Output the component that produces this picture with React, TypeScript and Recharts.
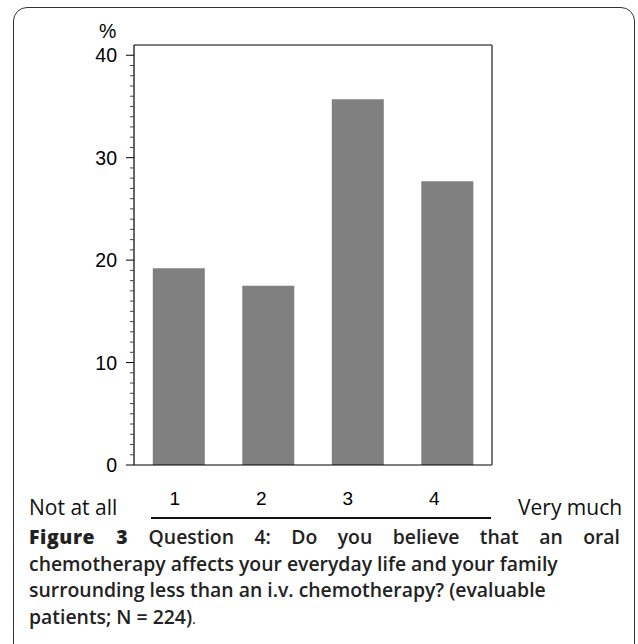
import { BarChart, Bar, XAxis, YAxis } from 'recharts'

const categories = ['1', '2', '3', '4']
const percentages = [19.2, 17.5, 35.7, 27.7]
const majorTicks = [0, 10, 20, 30, 40]
const yTicks = Array.from({ length: 41 }, (_, i) => i)

const data = categories.map((name, i) => ({ name, value: percentages[i] }))

const numFont = '"Liberation Sans", Arial, sans-serif'
const textFont = '"Open Sans", "Noto Sans", sans-serif'

function YTick({ x, y, payload }: any) {
    const major = majorTicks.includes(payload.value)
    return (
        <g>
            <line
                x1={x - (major ? 8 : 4)}
                x2={x}
                y1={y}
                y2={y}
                stroke={major ? '#000' : '#444'}
                strokeWidth={1}
            />
            {major && (
                <text
                    x={x - 17}
                    y={y}
                    dy="0.36em"
                    textAnchor="end"
                    fontSize={19.5}
                    fontFamily={numFont}
                    fill="#000"
                >
                    {payload.value}
                </text>
            )}
        </g>
    )
}

function XTick({ x, y, payload, index }: any) {
    return (
        <text
            x={x - 4 - index * 3}
            y={y}
            dy="0.71em"
            textAnchor="middle"
            fontSize={19}
            fontFamily={numFont}
            fill="#000"
        >
            {payload.value}
        </text>
    )
}

export default function App() {
    return (
        <div
            style={{
                position: 'fixed',
                left: 0,
                top: 0,
                width: 638,
                height: 644,
                overflow: 'hidden',
                background: '#fff',
            }}
        >
            <div
                style={{
                    position: 'absolute',
                    left: 13,
                    top: 7,
                    width: 622,
                    height: 670,
                    border: '1.5px solid #333',
                    borderRadius: 14,
                    boxSizing: 'border-box',
                }}
            />
            <div style={{ position: 'absolute', left: 0, top: 0 }}>
                <BarChart
                    width={638}
                    height={644}
                    data={data}
                    margin={{ top: 44, right: 145, left: 74, bottom: 139 }}
                    barCategoryGap="21%"
                >
                    <XAxis
                        dataKey="name"
                        axisLine={{ stroke: '#000', strokeWidth: 1.2 }}
                        tickLine={false}
                        tickSize={0}
                        tickMargin={27}
                        height={40}
                        tick={<XTick />}
                        interval={0}
                    />
                    <XAxis
                        xAxisId="top"
                        orientation="top"
                        dataKey="name"
                        height={1}
                        tick={false}
                        tickLine={false}
                        axisLine={{ stroke: '#000', strokeWidth: 1.2 }}
                    />
                    <YAxis
                        type="number"
                        domain={[0, 41]}
                        ticks={yTicks}
                        interval={0}
                        width={60}
                        tickSize={0}
                        tickMargin={0}
                        tickLine={false}
                        tick={<YTick />}
                        axisLine={{ stroke: '#000', strokeWidth: 1.2 }}
                    />
                    <YAxis
                        yAxisId="right"
                        orientation="right"
                        type="number"
                        domain={[0, 41]}
                        width={1}
                        tick={false}
                        tickLine={false}
                        axisLine={{ stroke: '#555', strokeWidth: 1.6 }}
                    />
                    <Bar dataKey="value" fill="#808080" isAnimationActive={false} />
                </BarChart>
            </div>
            <div
                style={{
                    position: 'absolute',
                    left: 99,
                    top: 20,
                    fontSize: 19.5,
                    fontFamily: numFont,
                    color: '#000',
                }}
            >
                %
            </div>
            <div
                style={{
                    position: 'absolute',
                    left: 29,
                    top: 493,
                    fontSize: 21,
                    fontFamily: textFont,
                    color: '#111',
                    whiteSpace: 'nowrap',
                }}
            >
                Not at all
            </div>
            <div
                style={{
                    position: 'absolute',
                    left: 151,
                    top: 517,
                    width: 340,
                    height: 1.6,
                    background: '#111',
                }}
            />
            <div
                style={{
                    position: 'absolute',
                    left: 518,
                    top: 493,
                    fontSize: 21,
                    fontFamily: textFont,
                    color: '#111',
                    whiteSpace: 'nowrap',
                }}
            >
                Very much
            </div>
            <div
                style={{
                    position: 'absolute',
                    left: 29,
                    top: 524,
                    width: 591,
                    fontSize: 19.4,
                    lineHeight: '26.5px',
                    fontFamily: textFont,
                    fontWeight: 600,
                    color: '#222',
                }}
            >
                <div style={{ textAlign: 'justify', textAlignLast: 'justify' }}>
                    <span style={{ fontWeight: 800, letterSpacing: 0.6 }}>Figure 3</span>{' '}
                    Question 4: Do you believe that an oral
                </div>
                <div>chemotherapy affects your everyday life and your family</div>
                <div>surrounding less than an i.v. chemotherapy? (evaluable</div>
                <div>
                    patients; N = 224)<span style={{ fontWeight: 400, fontSize: 15 }}>.</span>
                </div>
            </div>
        </div>
    )
}
